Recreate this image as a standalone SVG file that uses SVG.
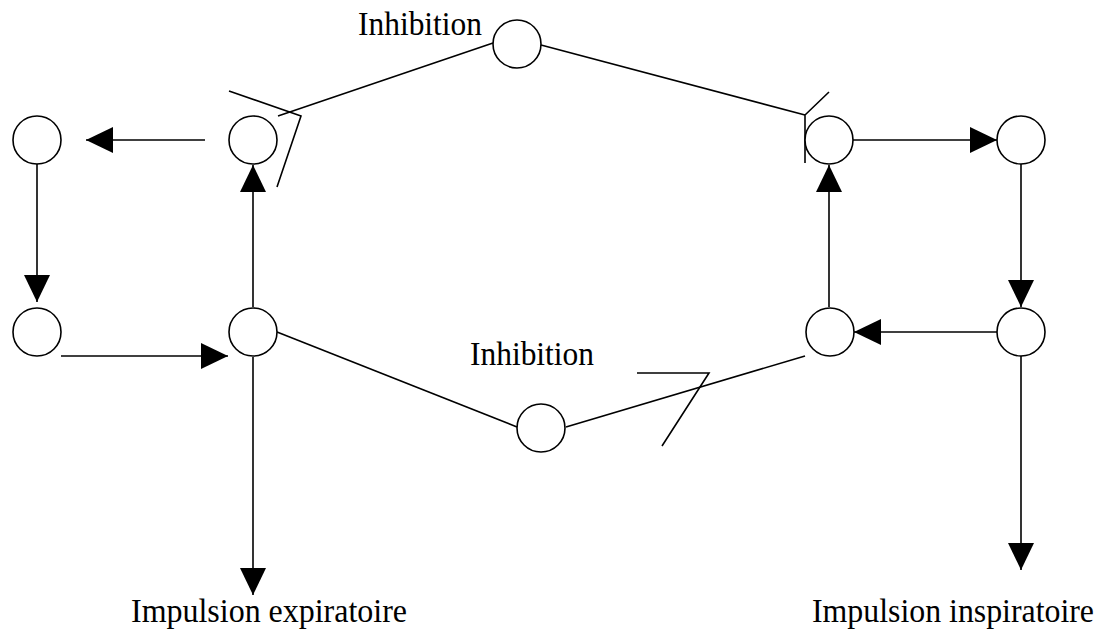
<svg xmlns="http://www.w3.org/2000/svg" width="1106" height="631" viewBox="0 0 1106 631">
<style>
.n{fill:#fff;stroke:#000;stroke-width:1.6}
.c{fill:none;stroke:#000;stroke-width:1.6}
.t{font-family:"Liberation Serif","Times New Roman",serif;font-size:33px;fill:#000}
</style>
<defs>
<marker id="ah" markerUnits="userSpaceOnUse" markerWidth="28" markerHeight="28" refX="27" refY="13" orient="auto">
<path d="M0,0 L27,13 L0,26 z" fill="#000"/>
</marker>
</defs>
<rect width="1106" height="631" fill="#fff"/>
<g id="connectors">
<line class="c" x1="205" y1="140" x2="86" y2="140" marker-end="url(#ah)"/>
<line class="c" x1="37" y1="158" x2="37" y2="302" marker-end="url(#ah)"/>
<line class="c" x1="61" y1="356" x2="228" y2="356" marker-end="url(#ah)"/>
<line class="c" x1="253" y1="307" x2="253" y2="165" marker-end="url(#ah)"/>
<line class="c" x1="253" y1="357" x2="253" y2="595" marker-end="url(#ah)"/>
<line class="c" x1="853" y1="140" x2="997" y2="140" marker-end="url(#ah)"/>
<line class="c" x1="829" y1="307" x2="829" y2="165" marker-end="url(#ah)"/>
<line class="c" x1="1021" y1="164" x2="1021" y2="307" marker-end="url(#ah)"/>
<line class="c" x1="997" y1="332" x2="854" y2="332" marker-end="url(#ah)"/>
<line class="c" x1="1021" y1="356" x2="1021" y2="570" marker-end="url(#ah)"/>
<line class="c" x1="278" y1="116" x2="493" y2="43"/>
<polyline class="c" points="229,91 301,116 277,187"/>
<line class="c" x1="541" y1="45" x2="805" y2="115"/>
<polyline class="c" points="829,92 805,115 805,163"/>
<line class="c" x1="277" y1="332" x2="517" y2="427"/>
<line class="c" x1="566" y1="427" x2="805" y2="356"/>
<polyline class="c" points="637,373 709,373 662,446"/>
</g>
<g id="n-top"><circle class="n" cx="517" cy="44" r="24"/></g>
<g id="n-a"><circle class="n" cx="253" cy="140" r="24"/></g>
<g id="n-fl-top"><circle class="n" cx="37" cy="140" r="24"/></g>
<g id="n-fl-bot"><circle class="n" cx="37" cy="332" r="24"/></g>
<g id="n-lc"><circle class="n" cx="253" cy="332" r="24"/></g>
<g id="n-bot"><circle class="n" cx="541" cy="428" r="24"/></g>
<g id="n-rc"><circle class="n" cx="830" cy="332" r="24"/></g>
<g id="n-rt"><circle class="n" cx="829" cy="140" r="24"/></g>
<g id="n-fr-top"><circle class="n" cx="1021" cy="140" r="24"/></g>
<g id="n-fr-bot"><circle class="n" cx="1021" cy="332" r="24"/></g>
<g id="labels">
<text class="t" x="358" y="35" textLength="124" lengthAdjust="spacingAndGlyphs">Inhibition</text>
<text class="t" x="470" y="365" textLength="124" lengthAdjust="spacingAndGlyphs">Inhibition</text>
<text class="t" x="131" y="622" textLength="276" lengthAdjust="spacingAndGlyphs">Impulsion expiratoire</text>
<text class="t" x="812" y="622" textLength="282" lengthAdjust="spacingAndGlyphs">Impulsion inspiratoire</text>
</g>
</svg>
